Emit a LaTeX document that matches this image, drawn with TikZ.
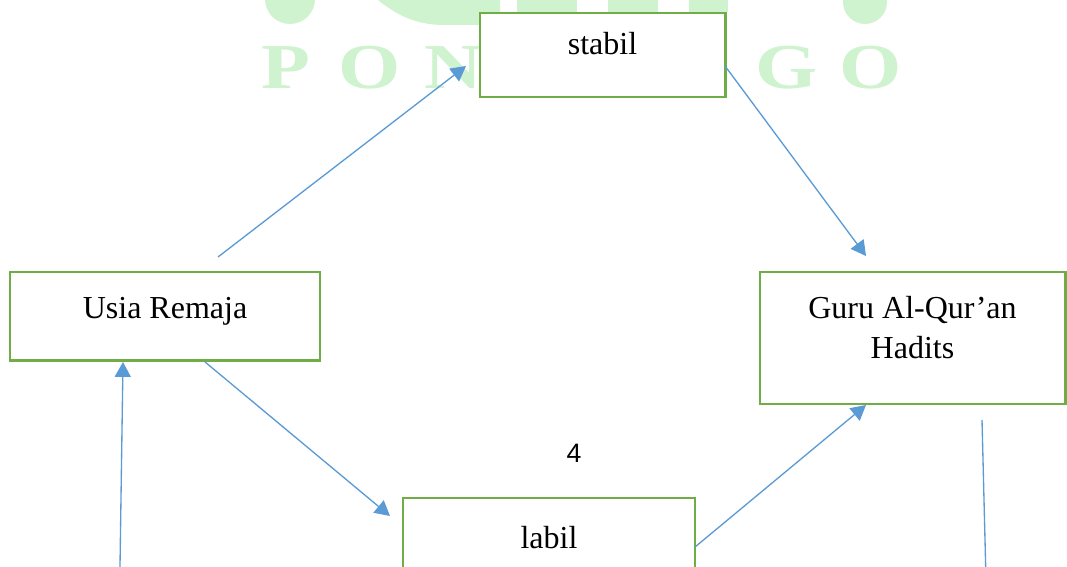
\documentclass[tikz,border=0pt]{standalone}
\usepackage{fontspec}
\setmainfont{Liberation Serif}
\newfontfamily\pagefont{Liberation Sans}
\usetikzlibrary{arrows.meta}
\definecolor{boxgreen}{RGB}{112,173,71}
\definecolor{linkblue}{RGB}{91,155,213}
\definecolor{markgreen}{RGB}{207,242,207}
\tikzstyle{stage} = [rectangle, draw=boxgreen, line width=1.1pt, fill=white, inner sep=0pt, outer sep=0pt, anchor=north, text centered]
\tikzstyle{arrow} = [linkblue, line width=0.5pt, ->, >={Triangle[length=5.6pt,width=6pt]}]

\begin{document}
\begin{tikzpicture}[x=0.375pt, y=-0.375pt, font=\fontsize{12}{15}\selectfont]
		\useasboundingbox (0,0) rectangle (1067,567);
		\clip (0,0) rectangle (1067,567);
		% watermark behind the boxes
		\fill [markgreen] (290,-1) circle (25);
		\fill [markgreen] (865,2) circle (22);
		\fill [markgreen] (378,-5) -- (378,0) .. controls (400,18) and (420,25) .. (445,25) -- (500,25) -- (500,-5) -- cycle;
		\fill [markgreen] (480,-5) rectangle (488,12);
		\fill [markgreen] (517,-5) rectangle (577,15);
		\fill [markgreen] (608,-5) rectangle (658,15);
		\fill [markgreen] (689,-5) rectangle (728,12);
		\foreach \k/\ch in {0/P,1/O,2/N,6/G,7/O}
			\node (w\k) [markgreen, font=\bfseries\fontsize{24}{24}\selectfont] at (286+83.5*\k, 68) {\scalebox{1.25}[1]{\ch}};
		\node (i1) [stage, minimum width=116.25pt, text height=17.25pt, text depth=16.1pt] at (165,272) {Usia Remaja};
		\node (i2) [stage, minimum width=91.9pt, text height=15.75pt, text depth=15.75pt] at (602.5,13) {stabil};
		\node (i3) [stage, minimum width=109.5pt, text height=18.75pt, text depth=16.9pt] at (549,498) {labil};
		\node (i4) [stage, align=center, minimum width=114.4pt, text height=32.25pt, text depth=17.25pt] at (912.5,272) {Guru Al-Qur’an\\Hadits};
		\node (pg) [font=\pagefont\fontsize{10}{12}\selectfont] at (574,453) {4};
		\coordinate (from) at (119.5,600);
		\coordinate (to) at (986.5,600);
		\draw [arrow] ([shift={(53,-15)}]i1.north) -- ([shift={(-14,11)}]i2.west);
		\draw [arrow] ([shift={(0,11)}]i2.east) -- ([shift={(-46.5,-16)}]i4.north);
		\draw [arrow] ([shift={(40,1)}]i1.south) -- ([shift={(-13,18)}]i3.north west);
		\draw [arrow] ([shift={(0,49)}]i3.north east) -- ([shift={(-46.5,1)}]i4.south);
		\draw [arrow] (from) -- ([shift={(-42,1)}]i1.south);
		\draw [linkblue, line width=0.5pt] ([shift={(69.5,16)}]i4.south) -- (to);
		\end{tikzpicture}
\end{document}
